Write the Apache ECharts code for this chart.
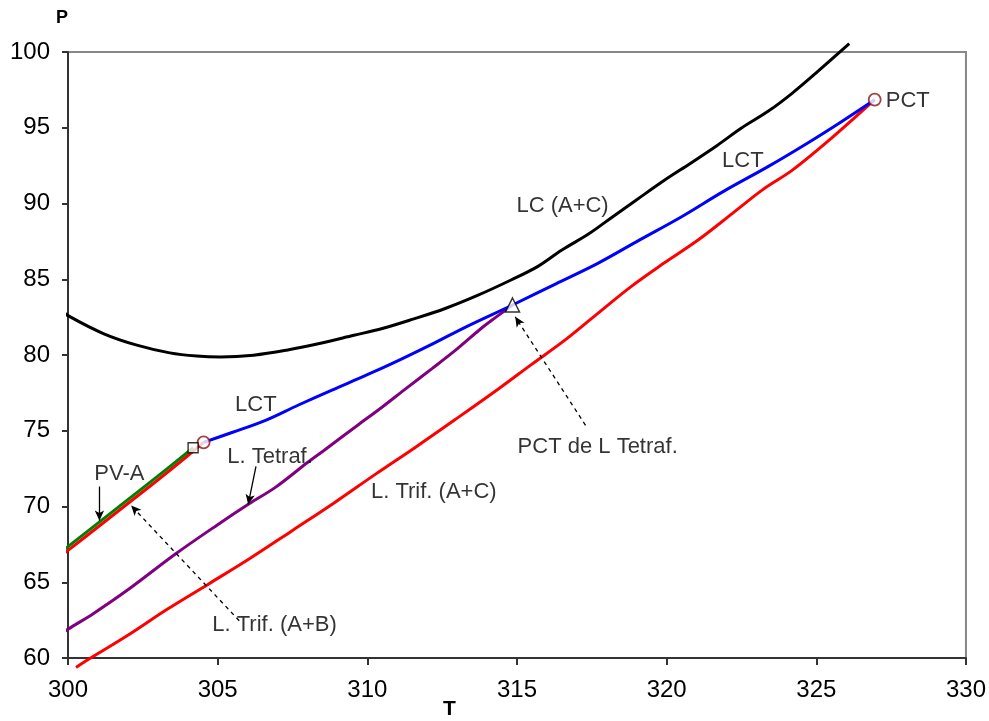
<!DOCTYPE html>
<html>
<head>
<meta charset="utf-8">
<script src="https://cdn.jsdelivr.net/npm/echarts@6/dist/echarts.min.js"></script>
<style>
  html, body { margin: 0; padding: 0; background: #fff; }
  #chart { width: 989px; height: 721px; }
</style>
</head>
<body>
<div id="chart"></div>
<script>
// curves as [T, P] pairs
const lcAC = [
  [299.78, 82.96], [300, 82.6], [301.2, 81.4], [302.3, 80.65], [303.4, 80.14], [304.3, 79.93],
  [305.1, 79.87], [306.2, 79.99], [307.3, 80.32], [308.4, 80.76], [309.55, 81.3], [310.5, 81.75],
  [311.5, 82.35], [312.6, 83.07], [313.7, 83.95], [314.8, 84.95], [315.7, 85.85], [316.5, 86.93],
  [317.4, 88.0], [318.2, 89.13], [319.0, 90.25], [319.9, 91.5], [320.8, 92.66], [321.7, 93.85],
  [322.5, 94.98], [323.4, 96.1], [324.2, 97.29], [325.05, 98.72], [326.1, 100.55]
];
const lct = [
  [304.53, 74.23], [305.5, 74.9], [306.6, 75.69], [307.7, 76.7], [308.8, 77.67], [310.0, 78.7],
  [311.05, 79.65], [312.2, 80.75], [313.3, 81.86], [314.85, 83.3], [316.3, 84.7], [317.7, 86.05],
  [319.1, 87.6], [320.5, 89.13], [321.9, 90.8], [323.4, 92.45], [324.7, 93.98], [325.8, 95.35],
  [326.95, 96.85]
];
const trifAC = [
  [300.27, 59.38], [300.7, 59.93], [302.0, 61.5], [303.3, 63.2], [304.7, 64.89], [306.1, 66.6],
  [307.5, 68.42], [308.9, 70.25], [310.3, 72.17], [311.6, 73.9], [312.9, 75.69], [314.4, 77.79],
  [315.5, 79.4], [316.6, 80.98], [317.7, 82.75], [318.8, 84.5], [319.9, 86.05], [321.05, 87.59],
  [322.2, 89.35], [323.2, 90.9], [324.2, 92.2], [325.5, 94.3], [326.95, 96.85]
];
const tetraf = [
  [299.72, 61.5], [300, 61.9], [300.83, 62.91], [302, 64.5], [303.6, 66.88], [305, 68.8],
  [306.05, 70.18], [306.94, 71.28], [308, 72.9], [308.55, 73.7], [309.7, 75.4], [310.5, 76.57],
  [311.3, 77.8], [312.16, 79.1], [313, 80.4], [313.8, 81.75], [314.3, 82.5], [314.85, 83.3]
];
const trifAB = [
  [299.78, 66.77], [300, 67.1], [301, 68.65], [302, 70.2], [303, 71.75], [304, 73.35], [304.53, 74.23]
];
const pvA = [
  [299.78, 67.0], [300, 67.35], [301, 68.9], [302, 70.45], [303, 72.0], [304.18, 73.88]
];

// special points
const pctPoints = [[304.53, 74.23], [326.95, 96.85]];
const squarePoint = [[304.18, 73.88]];
const trianglePoint = [[314.85, 83.3]];

// annotation texts: [T at left edge, P at middle, text]
const labels = [
  [314.98, 89.84, 'LC (A+C)'],
  [321.85, 92.81, 'LCT'],
  [327.32, 96.78, 'PCT'],
  [305.58, 76.68, 'LCT'],
  [305.32, 73.24, 'L. Tetraf.'],
  [300.88, 72.18, 'PV-A'],
  [310.12, 70.93, 'L. Trif. (A+C)'],
  [304.82, 62.2, 'L. Trif. (A+B)'],
  [315.02, 73.9, 'PCT de L Tetraf.']
];

// arrows: from, to, dashed?
const arrows = [
  [[301.05, 71.32], [301.05, 69.07], false],
  [[306.28, 72.65], [306.02, 70.14], false],
  [[305.72, 62.46], [302.11, 70.06], true],
  [[317.29, 75.36], [314.94, 82.52], true]
];

const xTicks = [300, 330, 5];
const yTicks = [60, 100, 5];

const FONT = "'Liberation Sans', Arial, sans-serif";

const chart = echarts.init(document.getElementById('chart'));

const lineSeries = (name, data, color) => ({
  name: name,
  type: 'line',
  data: data,
  showSymbol: false,
  symbol: 'none',
  smooth: 0.35,
  clip: false,
  lineStyle: { color: color, width: 3 },
  z: 3,
  silent: true
});

const option = {
  animation: false,
  backgroundColor: '#fff',
  grid: {
    left: 68, right: 22, top: 52, bottom: 63,
    show: true,
    borderColor: '#888',
    borderWidth: 2,
    backgroundColor: '#fff'
  },
  xAxis: {
    type: 'value',
    min: xTicks[0],
    max: xTicks[1],
    interval: xTicks[2],
    axisLine: { show: true, onZero: false, lineStyle: { color: '#333', width: 2 } },
    axisTick: { show: true, length: 7, lineStyle: { color: '#333', width: 2 } },
    splitLine: { show: false },
    axisLabel: { color: '#000', fontSize: 24, fontFamily: FONT, margin: 20 }
  },
  yAxis: {
    type: 'value',
    min: yTicks[0],
    max: yTicks[1],
    interval: yTicks[2],
    axisLine: { show: true, onZero: false, lineStyle: { color: '#333', width: 2 } },
    axisTick: { show: true, length: 6, lineStyle: { color: '#333', width: 2 } },
    splitLine: { show: false },
    axisLabel: { color: '#000', fontSize: 24, fontFamily: FONT, margin: 18 }
  },
  graphic: [
    {
      type: 'text', left: 56, top: 9,
      style: { text: 'P', font: "bold 18px 'Liberation Sans', Arial, sans-serif", fill: '#000' }
    },
    {
      type: 'text', left: 443, top: 699,
      style: { text: 'T', font: "bold 21px 'Liberation Sans', Arial, sans-serif", fill: '#000' }
    }
  ],
  series: [
    lineSeries('LC (A+C)', lcAC, '#000000'),
    lineSeries('L. Trif. (A+C)', trifAC, '#ff0000'),
    lineSeries('L. Tetraf.', tetraf, '#800080'),
    lineSeries('LCT', lct, '#0000ff'),
    lineSeries('L. Trif. (A+B)', trifAB, '#ff0000'),
    lineSeries('PV-A', pvA, '#008000'),
    {
      name: 'arrows',
      type: 'line',
      data: [],
      silent: true,
      markLine: {
        silent: true,
        symbol: ['none', 'arrow'],
        symbolSize: [7, 10],
        label: { show: false },
        animation: false,
        data: arrows.map(a => [
          { coord: a[0], lineStyle: { color: '#000', width: 1.3, type: a[2] ? [4, 4] : 'solid' } },
          { coord: a[1] }
        ])
      }
    },
    {
      name: 'PCT',
      type: 'scatter',
      data: pctPoints,
      symbol: 'circle',
      symbolSize: 12,
      clip: false,
      itemStyle: { color: '#fff', borderColor: '#8b1010', borderWidth: 1.8 },
      z: 5
    },
    {
      name: 'square',
      type: 'scatter',
      data: squarePoint,
      symbol: 'rect',
      symbolSize: 10,
      itemStyle: { color: '#fff', borderColor: '#000', borderWidth: 1.4 },
      z: 5
    },
    {
      name: 'triangle',
      type: 'scatter',
      data: trianglePoint,
      symbol: 'triangle',
      symbolSize: 14,
      itemStyle: { color: '#fff', borderColor: '#000', borderWidth: 1.5 },
      z: 5
    },
    {
      name: 'labels',
      type: 'scatter',
      data: labels.map(l => ({ value: [l[0], l[1]], name: l[2] })),
      symbolSize: 0,
      clip: false,
      silent: true,
      label: {
        show: true,
        position: 'right',
        distance: 0,
        formatter: p => p.name,
        color: '#000',
        fontSize: 22,
        fontFamily: FONT
      },
      z: 6
    }
  ]
};

chart.setOption(option);
</script>
</body>
</html>
